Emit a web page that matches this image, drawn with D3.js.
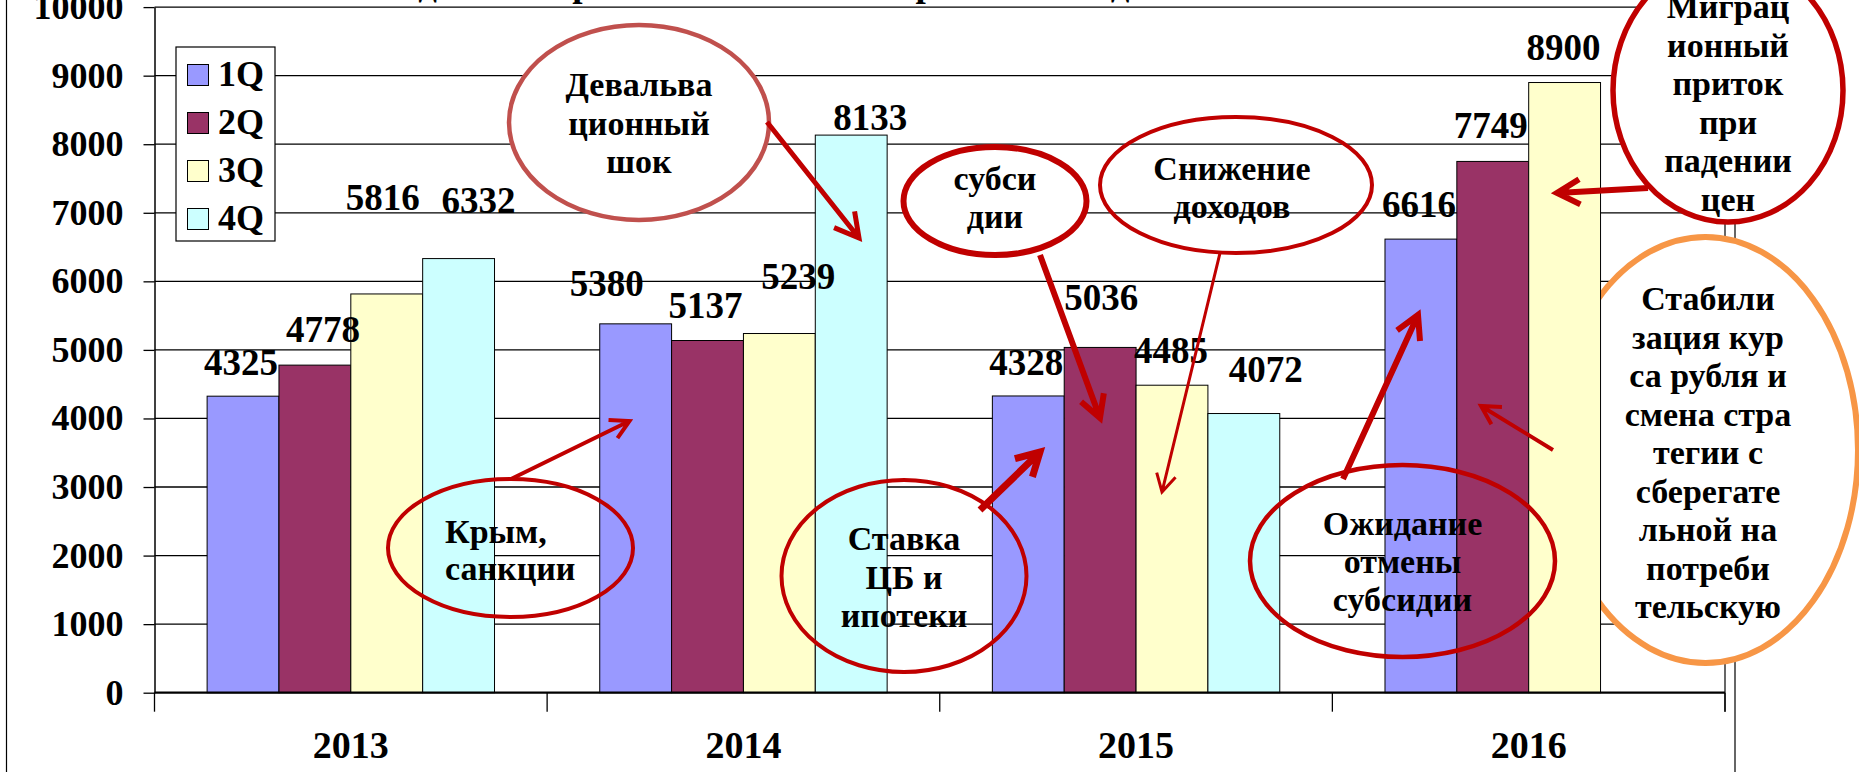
<!DOCTYPE html>
<html><head><meta charset="utf-8">
<script src="https://cdn.jsdelivr.net/npm/d3@7/dist/d3.min.js"></script>
<style>html,body{margin:0;padding:0;background:#fff;overflow:hidden}
text{font-family:"Liberation Serif","Times New Roman",serif;font-weight:bold;fill:#000}</style>
</head><body><svg id="c" width="1859" height="772"></svg>
<script>
// ---------- data ----------
const years = ["2013", "2014", "2015", "2016"];
const quarters = ["1Q", "2Q", "3Q", "4Q"];
const q1 = [4325, 5380, 4328, 6616];
const q2 = [4778, 5137, 5036, 7749];
const q3 = [5816, 5239, 4485, 8900];
const q4 = [6332, 8133, 4072, null];
const yTicks = [0, 1000, 2000, 3000, 4000, 5000, 6000, 7000, 8000, 9000, 10000];
const titleText = "Количество сделок на рынке жилья по кварталам и годам";

// ---------- layout (label nudges, annotations) ----------
const colors = ["#9999FF", "#993366", "#FFFFCC", "#CCFFFF"];
const labelNudge = [
  [[-2, -34], [-29, -40], [-2, -33], [-2, -35]],
  [[8, -36], [-2, -35], [1, -50], [-2, -36]],
  [[-4, -96], [19, -57], [-1, -35], [-1, -35]],
  [[20, -58], [19, -18], [22, -44], null]
];
const annots = [
  {cx:639, cy:122.5, rx:130, ry:97.5, stroke:"#C0504D", w:4.5, fill:"#fff", tx:639, anchor:"middle",
   lines:["Девальва","ционный","шок"], base:[96,135,173]},
  {cx:995, cy:201, rx:91.5, ry:54, stroke:"#C00000", w:6, fill:"#fff", tx:995, anchor:"middle",
   lines:["субси","дии"], base:[190,228]},
  {cx:1236, cy:185, rx:136, ry:68, stroke:"#C00000", w:4, fill:"none", tx:1232, anchor:"middle",
   lines:["Снижение","доходов"], base:[180,218]},
  {cx:1728, cy:90.5, rx:115, ry:131.5, stroke:"#C00000", w:5.5, fill:"#fff", tx:1728, anchor:"middle",
   lines:["Миграц","ионный","приток","при","падении","цен"], base:[18,56.5,95,133.5,172,210.5]},
  {cx:1705.5, cy:450, rx:152.5, ry:213, stroke:"#F79646", w:6, fill:"#fff", tx:1708, anchor:"middle",
   lines:["Стабили","зация кур","са рубля и","смена стра","тегии с","сберегате","льной на","потреби","тельскую"],
   base:[310,348.5,387,425.5,464,502.5,541,579.5,618]},
  {cx:510.5, cy:548, rx:122.5, ry:69, stroke:"#C00000", w:4, fill:"none", tx:445, anchor:"start",
   lines:["Крым,","санкции"], base:[543,580]},
  {cx:904, cy:576, rx:122.5, ry:96, stroke:"#C00000", w:4, fill:"none", tx:904, anchor:"middle",
   lines:["Ставка","ЦБ и","ипотеки"], base:[550,589,627]},
  {cx:1402.5, cy:561, rx:152.5, ry:96, stroke:"#C00000", w:4.5, fill:"none", tx:1402.5, anchor:"middle",
   lines:["Ожидание","отмены","субсидии"], base:[535,573,611]}
];
const arrows = [
  {x1:767, y1:122, x2:859, y2:238, w:5, hl:27},
  {x1:1040, y1:255, x2:1100, y2:418, w:6, hl:25},
  {x1:1220, y1:253, x2:1162, y2:492, w:3, hl:20},
  {x1:1648, y1:188, x2:1557, y2:193, w:6, hl:26},
  {x1:511, y1:479, x2:629.5, y2:421, w:4, hl:21},
  {x1:980, y1:510, x2:1040, y2:452, w:7, hl:26},
  {x1:1343, y1:479, x2:1418, y2:315, w:6, hl:26},
  {x1:1553, y1:450, x2:1481, y2:406, w:4, hl:21}
];

// ---------- chart ----------
const series = [q1, q2, q3, q4];
const svg = d3.select("#c");
const plotL = 154.5, plotR = 1725, plotT = 7.1, plotB = 692.7;

const y = d3.scaleLinear().domain([0, 10000]).range([plotB, plotT]);
const x0 = d3.scaleBand().domain(years).range([plotL, plotR]).paddingInner(0.268).paddingOuter(0.134);
const x1 = d3.scaleBand().domain(quarters).range([0, x0.bandwidth()]);

// outer chart border
svg.append("rect").attr("x", 6.5).attr("y", -20).attr("width", 1735 - 6.5).attr("height", 830)
  .attr("fill", "#fff").attr("stroke", "#000").attr("stroke-width", 1.2);

// title (mostly cut off at top)
svg.append("text").attr("x", 685).attr("y", -4).attr("text-anchor", "middle")
  .attr("font-size", 37).text(titleText);

// gridlines
svg.append("g").selectAll("line").data(yTicks.filter(d => d > 0)).join("line")
  .attr("x1", plotL).attr("x2", plotR).attr("y1", d => y(d)).attr("y2", d => y(d))
  .attr("stroke", "#000").attr("stroke-width", 1.3);
// plot right border
svg.append("line").attr("x1", plotR).attr("x2", plotR).attr("y1", plotT).attr("y2", plotB + 19)
  .attr("stroke", "#000").attr("stroke-width", 1.2);

// filled annotation ellipses (behind bars)
const filled = annots.filter(a => a.fill !== "none");
const unfilled = annots.filter(a => a.fill === "none");
svg.append("g").selectAll("ellipse").data(filled).join("ellipse")
  .attr("cx", d => d.cx).attr("cy", d => d.cy).attr("rx", d => d.rx).attr("ry", d => d.ry)
  .attr("fill", d => d.fill).attr("stroke", d => d.stroke).attr("stroke-width", d => d.w);

// bars
const barData = [];
series.forEach((s, si) => s.forEach((v, yi) => {
  if (v != null) barData.push({year: years[yi], q: quarters[si], v, si, yi});
}));
svg.append("g").selectAll("rect").data(barData).join("rect")
  .attr("x", d => x0(d.year) + x1(d.q)).attr("width", x1.bandwidth())
  .attr("y", d => y(d.v)).attr("height", d => y(0) - y(d.v))
  .attr("fill", d => colors[d.si]).attr("stroke", "#000").attr("stroke-width", 1);

// y axis
const yAxis = svg.append("g").attr("transform", `translate(${plotL},0)`)
  .call(d3.axisLeft(y).tickValues(yTicks).tickSize(11).tickSizeOuter(0).tickPadding(20).tickFormat(d3.format("d")));
yAxis.select(".domain").attr("stroke", "#000").attr("stroke-width", 1.5);
yAxis.selectAll(".tick line").attr("stroke", "#000").attr("stroke-width", 1.3);
yAxis.selectAll("text").attr("font-size", 36).attr("font-family", "Liberation Serif")
  .attr("font-weight", "bold").attr("fill", "#000");

// x axis
svg.append("line").attr("x1", plotL).attr("x2", plotR).attr("y1", y(0)).attr("y2", y(0))
  .attr("stroke", "#000").attr("stroke-width", 2.2);
const bounds = d3.range(years.length + 1).map(i => plotL + i * x0.step());
svg.append("g").selectAll("line").data(bounds).join("line")
  .attr("x1", d => d).attr("x2", d => d).attr("y1", y(0)).attr("y2", y(0) + 19)
  .attr("stroke", "#000").attr("stroke-width", 1.3);
const xAxis = svg.append("g").attr("transform", `translate(0,${y(0)})`)
  .call(d3.axisBottom(x0).tickSize(0).tickPadding(0));
xAxis.select(".domain").remove();
xAxis.selectAll("text").attr("y", 65).attr("dy", 0).attr("font-size", 38)
  .attr("font-family", "Liberation Serif").attr("font-weight", "bold").attr("fill", "#000");

// data labels
svg.append("g").selectAll("text").data(barData).join("text")
  .attr("text-anchor", "middle").attr("font-size", 37)
  .attr("x", d => x0(d.year) + x1(d.q) + x1.bandwidth() / 2 + labelNudge[d.si][d.yi][0])
  .attr("y", d => y(d.v) + labelNudge[d.si][d.yi][1] + 12.5)
  .text(d => d.v);

// legend
const lg = svg.append("g");
lg.append("rect").attr("x", 176).attr("y", 47).attr("width", 99).attr("height", 194)
  .attr("fill", "#fff").attr("stroke", "#000").attr("stroke-width", 1.2);
const li = lg.selectAll("g.li").data(quarters).join("g").attr("class", "li")
  .attr("transform", (d, i) => `translate(0,${75 + i * 48})`);
li.append("rect").attr("x", 187.5).attr("y", -10.5).attr("width", 21).attr("height", 21)
  .attr("fill", (d, i) => colors[i]).attr("stroke", "#000").attr("stroke-width", 1);
li.append("text").attr("x", 218).attr("y", 11).attr("font-size", 36).text(d => d);

// unfilled annotation ellipses
svg.append("g").selectAll("ellipse").data(unfilled).join("ellipse")
  .attr("cx", d => d.cx).attr("cy", d => d.cy).attr("rx", d => d.rx).attr("ry", d => d.ry)
  .attr("fill", "none").attr("stroke", d => d.stroke).attr("stroke-width", d => d.w);

// annotation texts
annots.forEach(a => {
  svg.append("g").selectAll("text").data(a.lines).join("text")
    .attr("x", a.tx).attr("y", (d, i) => a.base[i]).attr("text-anchor", a.anchor)
    .attr("font-size", 34).text(d => d);
});

// arrows
function arrowPath(a) {
  const dx = a.x2 - a.x1, dy = a.y2 - a.y1, L = Math.hypot(dx, dy);
  const ux = -dx / L, uy = -dy / L, ang = 29 * Math.PI / 180;
  const r = (s) => [a.x2 + a.hl * (ux * Math.cos(s) - uy * Math.sin(s)),
                    a.y2 + a.hl * (ux * Math.sin(s) + uy * Math.cos(s))];
  const h1 = r(ang), h2 = r(-ang);
  return `M${a.x1},${a.y1}L${a.x2},${a.y2}M${h1[0]},${h1[1]}L${a.x2},${a.y2}L${h2[0]},${h2[1]}`;
}
svg.append("g").selectAll("path").data(arrows).join("path")
  .attr("d", arrowPath).attr("fill", "none").attr("stroke", "#C00000")
  .attr("stroke-width", d => d.w).attr("stroke-linecap", "butt").attr("stroke-linejoin", "miter");
</script></body></html>
